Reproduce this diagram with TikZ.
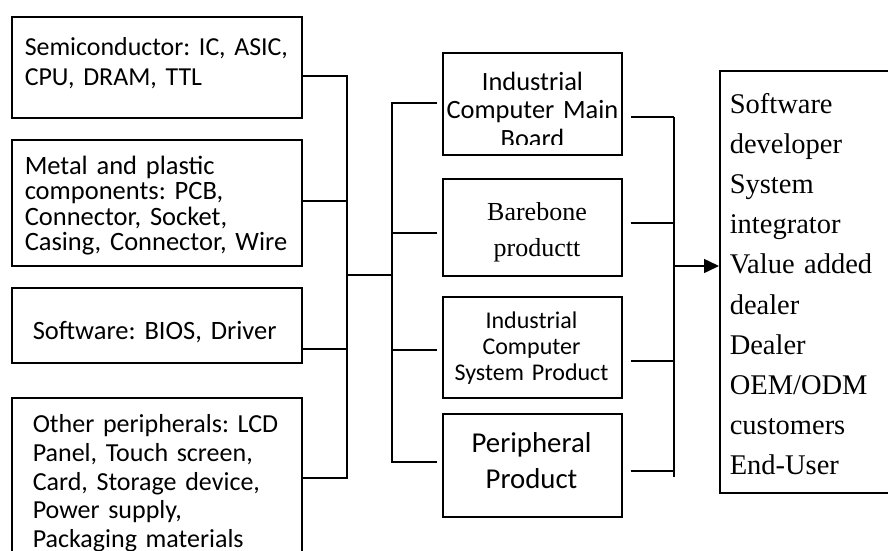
\documentclass[tikz,border=0pt]{standalone}
\usepackage{fontspec}
\setmainfont{Liberation Serif}
\newfontfamily\calib{Carlito}
\usetikzlibrary{arrows.meta}
\frenchspacing
\begin{document}
\begin{tikzpicture}[x=1pt,y=-1pt,line width=1.5pt,
  box/.style={draw,rectangle,inner sep=0pt,anchor=north west},
  ltext/.style={anchor=base west,inner sep=0pt,align=left,text width=280pt},
  ctext/.style={anchor=base,inner sep=0pt,align=center,text width=178pt},
  tip/.style={-{Triangle[length=15pt,width=14pt]}}
]
\clip (0,0) rectangle (888,550);
\fill[white] (0,0) rectangle (888,550);

% left boxes
\node[box,minimum width=290,minimum height=101] (s1) at (11,16) {};
\node[box,minimum width=290,minimum height=126] (s2) at (11,139) {};
\node[box,minimum width=290,minimum height=75] (s3) at (11,287) {};
\node[box,minimum width=290,minimum height=210] (s4) at (11,397) {};

\node[ltext,font=\calib\frenchspacing\fontsize{25.9}{30}\selectfont] (ts1) at (24,55) {Semiconductor: IC, ASIC,\\CPU, DRAM, TTL};
\node[ltext,font=\calib\frenchspacing\fontsize{26.5}{25.5}\selectfont] (ts2) at (24,174) {Metal and plastic\\components: PCB,\\Connector, Socket,\\Casing, Connector, Wire};
\node[ltext,font=\calib\frenchspacing\fontsize{26.5}{27}\selectfont] (ts3) at (32,339) {Software: BIOS, Driver};
\node[ltext,font=\calib\frenchspacing\fontsize{26}{28.8}\selectfont] (ts4) at (32,432.5) {Other peripherals: LCD\\Panel, Touch screen,\\Card, Storage device,\\Power supply,\\Packaging materials};

% middle boxes
\node[box,minimum width=179,minimum height=102] (m1) at (442,52) {};
\node[box,minimum width=179,minimum height=97] (m2) at (442,178) {};
\node[box,minimum width=179,minimum height=101] (m3) at (442,296) {};
\node[box,minimum width=179,minimum height=103] (m4) at (442,413) {};

\begin{scope}
\clip (442,52) rectangle (621,144);
\node[ctext,font=\calib\fontsize{26.4}{28.5}\selectfont] (tm1) at (532.5,90) {Industrial\\Computer Main\\Board};
\end{scope}
\node[ctext,font=\fontsize{26}{36.5}\selectfont] (tm2) at (537,220) {Barebone\\productt};
\node[ctext,font=\calib\fontsize{24}{26}\selectfont] (tm3) at (531.5,328.5) {Industrial\\Computer\\System Product};
\node[ctext,font=\calib\fontsize{28.8}{36}\selectfont] (tm4) at (531.5,452.5) {Peripheral\\Product};

% right box
\node[box,minimum width=181,minimum height=422] (r) at (719,70) {};
\node[ltext,font=\fontsize{28.5}{40.2}\selectfont,text width=160pt] (tr) at (729,113) {Software\\developer\\System\\integrator\\Value added\\dealer\\Dealer\\OEM/ODM\\customers\\End-User};

% connectors
\coordinate (j1) at (347,275);
\coordinate (j2) at (392,275);
\coordinate (j3) at (674,266);
\coordinate (j3top) at (674,117);
\coordinate (j3bot) at (674,477);

\draw (s1.east |- 0,76) -| (j1);
\draw (s2.east |- 0,201) -| (j1);
\draw (s3.east |- 0,349) -| (j1);
\draw (s4.east |- 0,478) -| (j1);
\draw (j1) -- (j2);
\draw[shorten <=5pt] (m1.west |- 0,103) -| (j2);
\draw[shorten <=5pt] (m2.west |- 0,233) -| (j2);
\draw[shorten <=5pt] (m3.west |- 0,350) -| (j2);
\draw[shorten <=5pt] (m4.west |- 0,462) -| (j2);

\draw[shorten <=8pt] (m1.east |- 0,117) -- (j3top);
\draw[shorten <=8pt] (m2.east |- 0,223) -- (j3 |- 0,223);
\draw[shorten <=8pt] (m3.east |- 0,361) -- (j3 |- 0,361);
\draw[shorten <=8pt] (m4.east |- 0,471) -- (j3 |- 0,471);
\draw (j3top) -- (j3bot);
\draw[tip] (j3) -- (r.west |- j3);
\end{tikzpicture}
\end{document}
